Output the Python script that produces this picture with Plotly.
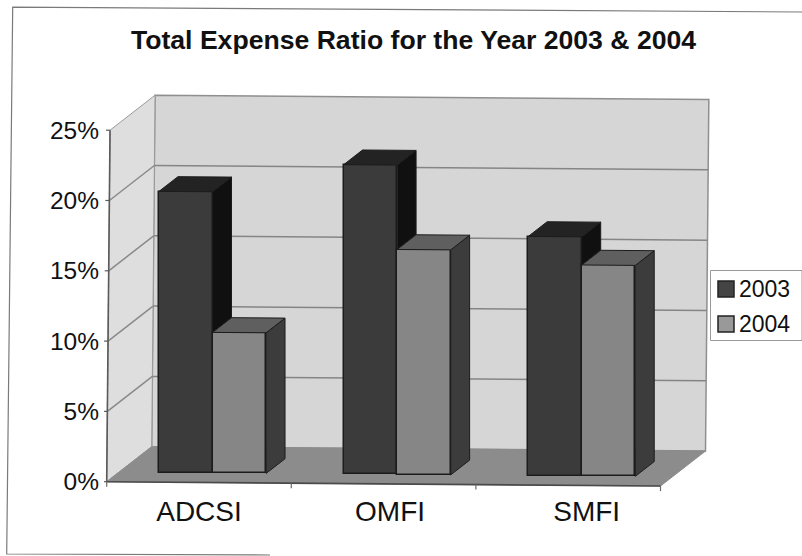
import plotly.graph_objects as go

# ---- data ----
categories = ["ADCSI", "OMFI", "SMFI"]
series_names = ["2003", "2004"]
values_2003 = [20, 22, 17]
values_2004 = [10, 16, 15]
y_ticks = [0, 5, 10, 15, 20, 25]
y_tick_labels = ["0%", "5%", "10%", "15%", "20%", "25%"]

# ---- oblique projection (in axis units) ----
W, H = 802, 556
PX_X = 184.6      # px per category
PX_Y = 14.06      # px per percent
X0_PX, Y0_PX = 106.7, 481.7  # where (cat 0, 0%) falls on the page
DX = 45 / PX_X    # depth along x
DY = 35 / PX_Y    # depth along y
TILT_X = 0.0095 * PX_Y / PX_X   # scan rotation
TILT_Y = -1.45 / PX_Y
BAR_TILT_AT = 8   # bars stay upright: they take the tilt of this height

def P(x, y, z=0.0):
    return (x + DX * z + TILT_X * y, y + DY * z + TILT_Y * x)

def B(x, y, z=0.0):
    return (x + DX * z + TILT_X * BAR_TILT_AT, y + DY * z + TILT_Y * x)

L_PX, R_PX, T_PX, B_PX = 104, 720, 88, 492
x_range = [(L_PX - X0_PX) / PX_X, (R_PX - X0_PX) / PX_X]
y_range = [(Y0_PX - B_PX) / PX_Y, (Y0_PX - T_PX) / PX_Y]

def path(pts):
    return "M " + " L ".join(f"{a:.5f},{b:.5f}" for a, b in pts) + " Z"

N = len(categories)
Y_MAX = y_ticks[-1]
shapes = []

def poly_shape(pts, fill, line=None, width=1):
    shapes.append(dict(type="path", path=path(pts), xref="x", yref="y", layer="below",
                       fillcolor=fill, line=dict(color=line or fill, width=width)))

def line_shape(a, b, color, width=1.5, layer="below"):
    shapes.append(dict(type="line", x0=a[0], y0=a[1], x1=b[0], y1=b[1], xref="x", yref="y",
                       layer=layer, line=dict(color=color, width=width)))

# walls and floor
poly_shape([P(0, 0, 1), P(N, 0, 1), P(N, Y_MAX, 1), P(0, Y_MAX, 1)], "#d6d6d6", "#8f8f8f", 1.5)
poly_shape([P(0, 0, 0), P(0, 0, 1), P(0, Y_MAX, 1), P(0, Y_MAX, 0)], "#dedede", "#9a9a9a", 1)
poly_shape([P(0, 0, 0), P(N, 0, 0), P(N, 0, 1), P(0, 0, 1)], "#8c8c8c", "#8c8c8c", 1)

# gridlines
for t in y_ticks[1:-1]:
    line_shape(P(0, t, 0), P(0, t, 1), "#8a8a8a")
    line_shape(P(0, t, 1), P(N, t, 1), "#858585")

# axis lines and ticks
line_shape(P(0, 0, 0), P(N, 0, 0), "#4a4a4a", 1.6)
line_shape(P(0, 0, 0), P(0, Y_MAX, 0), "#5a5a5a", 1.6)
TICK_DX = 4 / PX_X
TICK_DY = 5 / PX_Y
for t in y_ticks:
    a = P(0, t, 0)
    line_shape(a, (a[0] - TICK_DX, a[1]), "#5a5a5a", 1.2)
for i in range(N + 1):
    a = P(i, 0, 0)
    line_shape(a, (a[0], a[1] - TICK_DY), "#6a6a6a", 1.2)

# bars
SLOT_START = 0.212
BAR_W = 0.29
Z0, Z1 = 0.27, 0.69
OUT = "#1c1c1c"
styles = [
    dict(front="#3b3b3b", top="#232323", side="#101010", swatch="#444444"),
    dict(front="#868686", top="#5f5f5f", side="#3c3c3c", swatch="#999999"),
]
all_values = [values_2003, values_2004]

fig = go.Figure()

# front faces are real bars, lifted onto the floor
for s, vals in enumerate(all_values):
    xs, bases = [], []
    for i in range(N):
        left = i + SLOT_START + s * BAR_W
        px, py = B(left + BAR_W / 2, 0, Z0)
        xs.append(px)
        bases.append(py)
    fig.add_trace(go.Bar(
        x=xs, y=vals, base=bases, width=BAR_W, name=series_names[s],
        marker=dict(color=styles[s]["front"], line=dict(color=OUT, width=1.5)),
        showlegend=False, hoverinfo="skip"))

def face(pts, color):
    fig.add_trace(go.Scatter(
        x=[p[0] for p in pts] + [pts[0][0]], y=[p[1] for p in pts] + [pts[0][1]],
        mode="lines", fill="toself", fillcolor=color,
        line=dict(color=OUT, width=1), showlegend=False, hoverinfo="skip"))

for i in range(N):
    for s, vals in enumerate(all_values):
        v = vals[i]
        left = i + SLOT_START + s * BAR_W
        right = left + BAR_W
        # the part of a side hidden behind the next bar is left out
        low = all_values[s + 1][i] if s + 1 < len(all_values) else 0
        low = min(low, v)
        face([B(right, low, Z0), B(right, v, Z0), B(right, v, Z1), B(right, low, Z1)], styles[s]["side"])
        face([B(left, v, Z0), B(right, v, Z0), B(right, v, Z1), B(left, v, Z1)], styles[s]["top"])

FONT = "Liberation Sans, Arial, sans-serif"

# "paper" coordinates run over the plot area, so page pixels are converted through it
def px_x(px):
    return (px - L_PX) / (R_PX - L_PX)

def px_y(py):
    return (B_PX - py) / (B_PX - T_PX)

# frame: only the scanned sides that show
frame_pts = [(802, 12), (12.7, 7.2), (6.7, 554), (270, 555)]
frame_path = "M " + " L ".join(f"{px_x(a):.5f},{px_y(b):.5f}" for a, b in frame_pts)
shapes.append(dict(type="path", path=frame_path, xref="paper", yref="paper", layer="below",
                   line=dict(color="#7a7a7a", width=1.2)))

# legend box, swatches and labels
annotations = []
shapes.append(dict(type="rect", xref="paper", yref="paper", layer="above",
                   x0=px_x(710.5), x1=px_x(802), y0=px_y(270.5), y1=px_y(340.5),
                   fillcolor="#ffffff", line=dict(color="#9a9a9a", width=1)))
ROW_PY = [289, 324]
for s, name in enumerate(series_names):
    cy = ROW_PY[s]
    shapes.append(dict(type="rect", xref="paper", yref="paper", layer="above",
                       x0=px_x(718), x1=px_x(734), y0=px_y(cy - 8), y1=px_y(cy + 8),
                       fillcolor=styles[s]["swatch"], line=dict(color="#222222", width=1.5)))
    annotations.append(dict(text=name, xref="paper", yref="paper", x=px_x(738), y=px_y(cy),
                            xanchor="left", yanchor="middle", showarrow=False, borderpad=0,
                            font=dict(family=FONT, size=23, color="#111111")))

fig.update_layout(
    width=W, height=H, autosize=False,
    margin=dict(l=L_PX, r=W - R_PX, t=T_PX, b=H - B_PX, pad=0),
    paper_bgcolor="#ffffff", plot_bgcolor="rgba(0,0,0,0)",
    barmode="overlay", bargap=0, showlegend=False,
    shapes=shapes, annotations=annotations,
    title=dict(text="<b>Total Expense Ratio for the Year 2003 &amp; 2004</b>",
               x=413.5 / W, xanchor="center", y=1 - 40 / H, yanchor="middle",
               font=dict(family=FONT, size=26.6, color="#111111")),
    font=dict(family=FONT, color="#111111"),
    xaxis=dict(range=x_range, tickmode="array",
               tickvals=[0.5, 1.535, 2.6], ticktext=categories,
               showgrid=False, zeroline=False, showline=False, ticks="",
               tickfont=dict(size=28, color="#111111"), ticklabelstandoff=0),
    yaxis=dict(range=y_range, tickmode="array", tickvals=y_ticks, ticktext=y_tick_labels,
               showgrid=False, zeroline=False, showline=False, ticks="",
               tickfont=dict(size=24.5, color="#111111"), ticklabelstandoff=4),
)

fig.write_html("out.html", config={"displayModeBar": False},
               post_script="document.body.style.margin='0';document.body.style.overflow='hidden';")
